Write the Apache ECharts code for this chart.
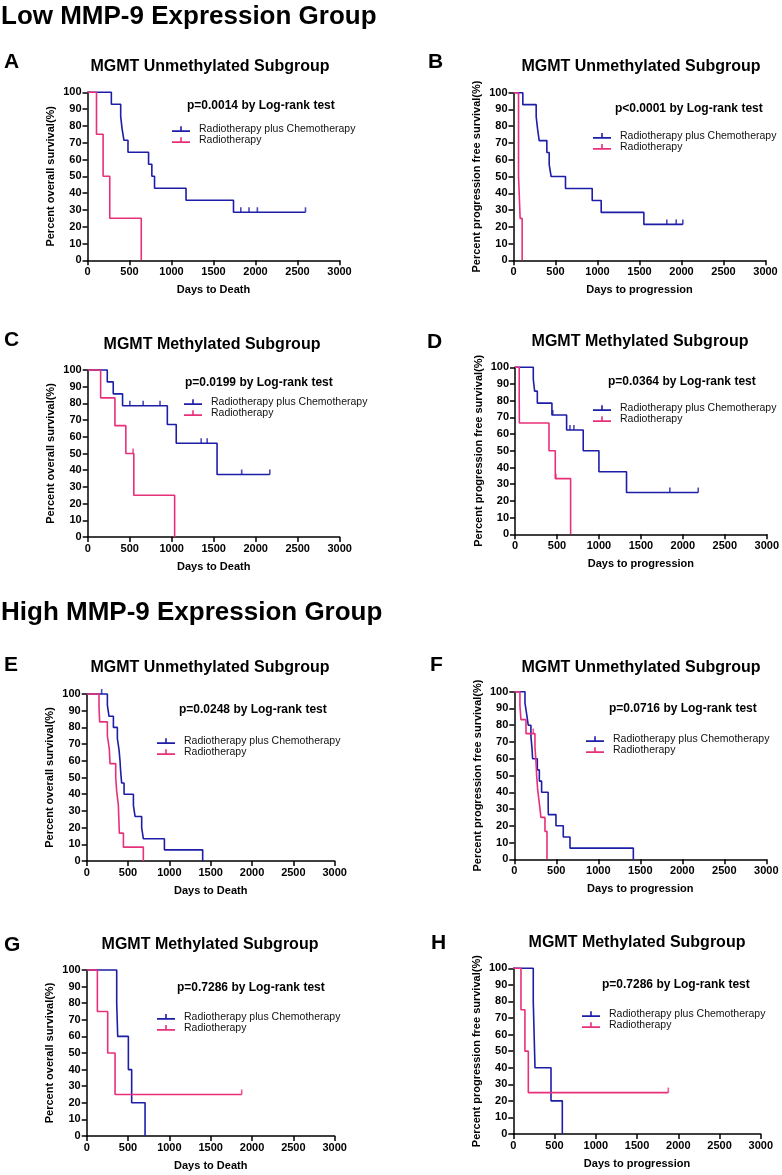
<!DOCTYPE html>
<html><head><meta charset="utf-8">
<script src="https://cdn.jsdelivr.net/npm/echarts@6/dist/echarts.min.js"></script>
<style>html,body{margin:0;padding:0;background:#fff}#c{width:782px;height:1175px}</style>
</head><body><div id="c"></div><script>
// ---------- texts ----------
const groupHeaders = ['Low MMP-9 Expression Group', 'High MMP-9 Expression Group'];
const panelLetters = ['A','B','C','D','E','F','G','H'];
const panelTitles = ['MGMT Unmethylated Subgroup','MGMT Unmethylated Subgroup','MGMT Methylated Subgroup','MGMT Methylated Subgroup','MGMT Unmethylated Subgroup','MGMT Unmethylated Subgroup','MGMT Methylated Subgroup','MGMT Methylated Subgroup'];
const pValues = ['p=0.0014 by Log-rank test','p<0.0001 by Log-rank test','p=0.0199 by Log-rank test','p=0.0364 by Log-rank test','p=0.0248 by Log-rank test','p=0.0716 by Log-rank test','p=0.7286 by Log-rank test','p=0.7286 by Log-rank test'];
const xNames = ['Days to Death','Days to progression','Days to Death','Days to progression','Days to Death','Days to progression','Days to Death','Days to progression'];
const yNames = ['Percent overall survival(%)','Percent progression free survival(%)','Percent overall survival(%)','Percent progression free survival(%)','Percent overall survival(%)','Percent progression free survival(%)','Percent overall survival(%)','Percent progression free survival(%)'];
const seriesNames = ['Radiotherapy plus Chemotherapy','Radiotherapy'];
const xRange = [0, 3000, 500];
const yRange = [0, 100, 10];

// ---------- data: [days, survival %] ----------
const A_chemo = [[0,100],[284,92.86],[395,85.71],[411,78.57],[434,71.43],[482,64.29],[727,57.14],[766,50],[798,42.86],[1173,35.71],[1738,28.57],[2595,28.57]];
const A_chemo_censor = [1825,1923,2022,2595];
const A_radio = [[0,100],[107,75],[186,50],[265,25],[640,0]];
const A_radio_censor = [];

const B_chemo = [[0,100],[111,92.86],[270,85.71],[286,78.57],[306,71.43],[397,64.29],[425,57.14],[448,50],[619,42.86],[937,35.71],[1044,28.57],[1552,21.43],[2016,21.43]];
const B_chemo_censor = [1825,1937,2016];
const B_radio = [[0,100],[60,50],[79,25],[103,0]];
const B_radio_censor = [];

const C_chemo = [[0,100],[233,92.86],[304,85.71],[415,78.57],[948,67.35],[1054,56.12],[1540,37.41],[2168,37.41]];
const C_chemo_censor = [502,660,861,1351,1422,1833,2168];
const C_radio = [[0,100],[154,83.33],[324,66.67],[454,50],[549,25],[1035,0]];
const C_radio_censor = [541];

const D_chemo = [[0,100],[218,92.86],[234,85.71],[266,78.57],[440,71.43],[615,62.5],[813,50],[1000,37.5],[1329,25],[2183,25]];
const D_chemo_censor = [450,655,702,1845,2183];
const D_radio = [[0,100],[50,83.33],[52,66.67],[405,50],[480,33.33],[663,0]];
const D_radio_censor = [488];

const E_chemo = [[0,100],[250,93.33],[270,86.67],[323,80],[371,73.33],[391,66.67],[403,60],[411,53.33],[423,46.67],[452,40],[565,33.33],[585,26.67],[665,20],[685,13.33],[940,6.67],[1403,0]];
const E_chemo_censor = [181];
const E_radio = [[0,100],[149,91.67],[157,83.33],[250,75],[274,66.67],[282,58.33],[351,50],[363,41.67],[383,33.33],[389,25],[395,16.67],[444,8.33],[685,0]];
const E_radio_censor = [];

const F_chemo = [[0,100],[127,93.33],[147,86.67],[166,80],[198,73.33],[210,66.67],[218,60],[274,53.33],[298,46.67],[325,40],[403,33.33],[405,26.67],[496,20],[583,13.33],[663,6.67],[1417,0]];
const F_chemo_censor = [];
const F_radio = [[0,100],[67,91.67],[79,83.33],[139,75],[246,66.67],[258,58.33],[266,50],[278,41.67],[298,33.33],[317,25],[365,16.67],[389,0]];
const F_radio_censor = [226];

const G_chemo = [[0,100],[363,80],[375,60],[504,40],[544,20],[706,0]];
const G_chemo_censor = [];
const G_radio = [[0,100],[129,75],[254,50],[343,25],[1875,25]];
const G_radio_censor = [1875];

const H_chemo = [[0,100],[242,80],[263,40],[457,20],[594,0]];
const H_chemo_censor = [];
const H_radio = [[0,100],[93,75],[141,50],[182,25],[1879,25]];
const H_radio_censor = [1879];

const chemoCurves = [A_chemo,B_chemo,C_chemo,D_chemo,E_chemo,F_chemo,G_chemo,H_chemo];
const chemoCensors = [A_chemo_censor,B_chemo_censor,C_chemo_censor,D_chemo_censor,E_chemo_censor,F_chemo_censor,G_chemo_censor,H_chemo_censor];
const radioCurves = [A_radio,B_radio,C_radio,D_radio,E_radio,F_radio,G_radio,H_radio];
const radioCensors = [A_radio_censor,B_radio_censor,C_radio_censor,D_radio_censor,E_radio_censor,F_radio_censor,G_radio_censor,H_radio_censor];

// ---------- layout & style ----------
const FONT = '"Liberation Sans", Arial, Helvetica, sans-serif';
const BLUE = '#1d1da8', PINK = '#e8307a';
const layout = [
  {grid:[87.5,92.3,252,168],   letter:[4,62],   title:[210,67],  p:[187,105.7], legend:[172,123.5]},
  {grid:[513.5,92.7,252,167.6],letter:[428,62], title:[641,67],  p:[615,109],   legend:[593,130.2]},
  {grid:[87.7,370,252,167],    letter:[4,340],  title:[212,345], p:[185,382.3], legend:[184,396.5]},
  {grid:[515,367.3,252,167],   letter:[427,342],title:[640,342], p:[608,382],   legend:[593,402.5]},
  {grid:[86.7,694,248,167],    letter:[4,665],  title:[210,668], p:[179,710],   legend:[157,735.5]},
  {grid:[514.3,691.7,252,167.6],letter:[430,665],title:[641,668],p:[609,709],   legend:[586,733.5]},
  {grid:[86.7,970,248,166],    letter:[4,945],  title:[210,945], p:[177,987.7], legend:[157,1011.2]},
  {grid:[513.3,968.3,247.5,165.7],letter:[431,943],title:[637,943],p:[602,985], legend:[582,1008.5]}
];
const headerPos = [[1,17],[1,612.5]];
const ICON = 'path://M0,4.3L18,4.3L18,5.9L0,5.9Z M8.2,0.2L9.8,0.2L9.8,4.6L8.2,4.6Z M22,0L22,0.01';

function survAt(curve, t) {
  let v = curve[0][1];
  for (const p of curve) { if (p[0] <= t) v = p[1]; }
  return v;
}

const option = {animation:false, backgroundColor:'#fff', title:[], grid:[], xAxis:[], yAxis:[], legend:[], series:[]};

groupHeaders.forEach((h, k) => {
  option.title.push({text:h, left:headerPos[k][0], top:headerPos[k][1], padding:0, textAlign:'left', textVerticalAlign:'middle',
    textStyle:{fontFamily:FONT, fontSize:26, fontWeight:'bold', color:'#000'}});
});

layout.forEach((L, i) => {
  option.title.push({text:panelLetters[i], left:L.letter[0], top:L.letter[1], padding:0, textAlign:'left', textVerticalAlign:'middle',
    textStyle:{fontFamily:FONT, fontSize:21, fontWeight:'bold', color:'#000'}});
  option.title.push({text:panelTitles[i], left:L.title[0], top:L.title[1], padding:0, textAlign:'center', textVerticalAlign:'middle',
    textStyle:{fontFamily:FONT, fontSize:16, fontWeight:'bold', color:'#000'}});
  option.title.push({text:pValues[i], left:L.p[0], top:L.p[1], padding:0, textAlign:'left', textVerticalAlign:'middle',
    textStyle:{fontFamily:FONT, fontSize:12, fontWeight:'bold', color:'#000'}});

  option.grid.push({left:L.grid[0], top:L.grid[1], width:L.grid[2], height:L.grid[3], containLabel:false});

  const axisCommon = () => ({
    axisLine:{show:true, lineStyle:{color:'#000', width:1.5}},
    axisTick:{show:true, length:5, lineStyle:{color:'#000', width:1.5}},
    axisLabel:{fontFamily:FONT, fontSize:11, fontWeight:'bold', color:'#000', margin:6, formatter: v => String(v)},
    splitLine:{show:false},
    nameLocation:'middle',
    nameTextStyle:{fontFamily:FONT, fontSize:11, fontWeight:'bold', color:'#000'}
  });
  option.xAxis.push(Object.assign({type:'value', gridIndex:i, min:xRange[0], max:xRange[1], interval:xRange[2], name:xNames[i], nameGap:24}, axisCommon()));
  option.yAxis.push(Object.assign({type:'value', gridIndex:i, min:yRange[0], max:yRange[1], interval:yRange[2], name:yNames[i], nameGap:31}, axisCommon()));

  option.legend.push({left:L.legend[0], top:L.legend[1], orient:'vertical', padding:0, itemGap:0, itemWidth:22, itemHeight:6,
    selectedMode:false, itemStyle:{borderWidth:0},
    data:seriesNames.map(n => ({name:n, icon:ICON})),
    textStyle:{fontFamily:FONT, fontSize:10.5, color:'#111', lineHeight:11}});

  const groups = [[chemoCurves[i], chemoCensors[i], BLUE, seriesNames[0]], [radioCurves[i], radioCensors[i], PINK, seriesNames[1]]];
  groups.forEach(([curve, cens, col, nm], j) => {
    option.series.push({type:'line', name:nm, xAxisIndex:i, yAxisIndex:i, data:curve, step:'end', showSymbol:false, symbol:'none',
      lineStyle:{color:col, width:1.6}, itemStyle:{color:col}, clip:false, silent:true, z:2+j});
    option.series.push({type:'scatter', name:'censor-'+i+'-'+j, xAxisIndex:i, yAxisIndex:i,
      data:cens.map(t => [t, survAt(curve, t)]), symbol:'rect', symbolSize:[1.6,5], symbolOffset:[0,-2.5],
      itemStyle:{color:col}, clip:false, silent:true, z:2+j});
  });
});

const chart = echarts.init(document.getElementById('c'), null, {renderer:'canvas'});
chart.setOption(option);
</script></body></html>
